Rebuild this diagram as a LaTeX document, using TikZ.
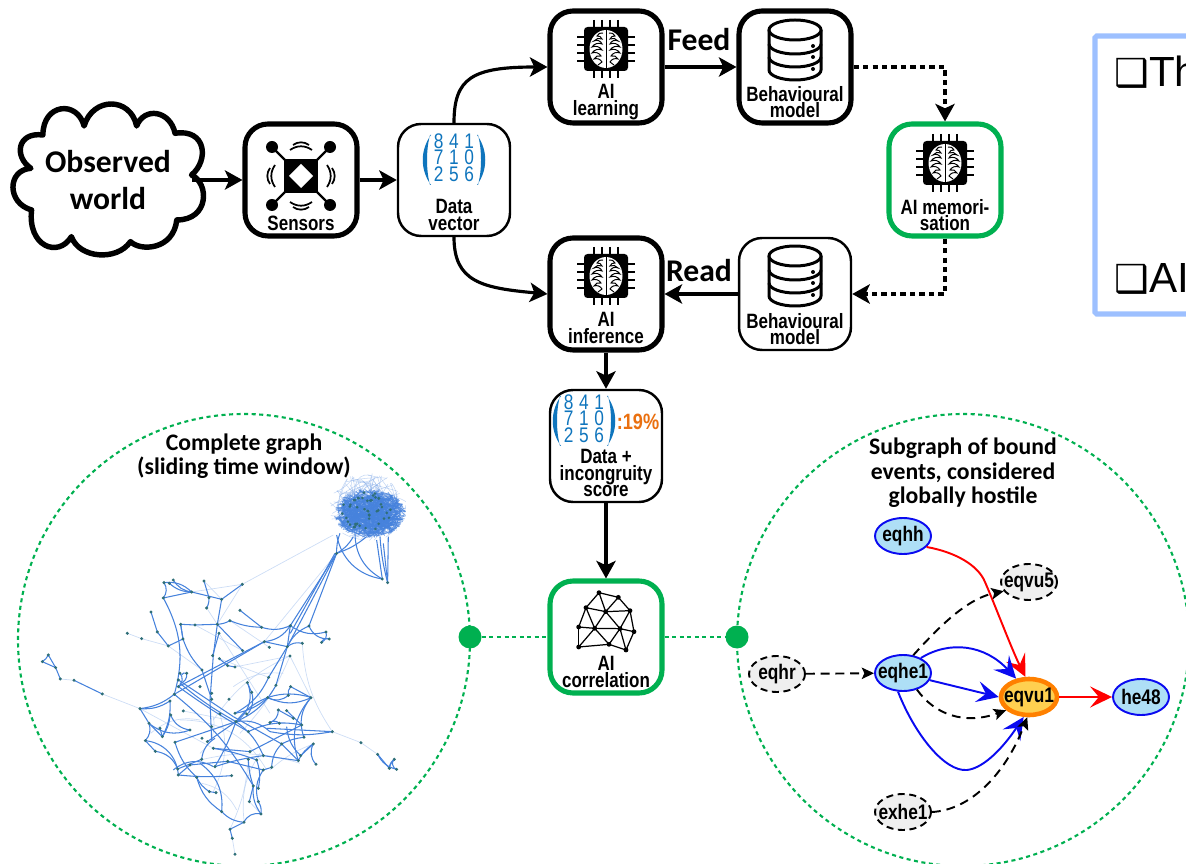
\documentclass[tikz,border=0pt]{standalone}
\usepackage{fontspec}
\usepackage{tikz}
\usetikzlibrary{arrows.meta, calc, positioning, shapes.geometric}
\setmainfont{Liberation Sans}
\newfontfamily\labelfont[FakeStretch=0.82]{Liberation Sans}
\newfontfamily\titlefont{Carlito}
\newfontfamily\symbolfont{DejaVu Sans}
\definecolor{mainGreen}{HTML}{00B050}
\definecolor{matBlue}{HTML}{0F75BD}
\definecolor{scoreOrange}{HTML}{EA7010}
\definecolor{frameBlue}{HTML}{9DC0FF}
\definecolor{nodeBlue}{HTML}{AEDFF6}
\definecolor{edgeBlue}{HTML}{0A0AF0}
\definecolor{nodeGray}{HTML}{EFEFEF}
\definecolor{alertFill}{HTML}{FFD050}
\definecolor{alertEdge}{HTML}{FF8000}
\definecolor{graphBlue}{HTML}{4682DC}
\definecolor{graphDot}{HTML}{2F6F78}
\tikzset{
    thickbox/.style={draw=black, line width=2.9pt, fill=white, rounded corners=0.46cm, minimum width=2.24cm, minimum height=2.24cm, inner sep=0pt},
    thinbox/.style={draw=black, line width=1.4pt, fill=white, rounded corners=0.46cm, minimum width=2.24cm, minimum height=2.24cm, inner sep=0pt},
    greenbox/.style={thickbox, draw=mainGreen},
    boxtext/.style={font=\labelfont\bfseries\fontsize{11.8}{9.4}\selectfont, align=center, inner sep=0pt},
    bigtext/.style={font=\titlefont\bfseries\fontsize{18}{21.6}\selectfont, align=center, inner sep=0pt},
    titletext/.style={font=\titlefont\bfseries\fontsize{13.5}{14}\selectfont, align=center, inner sep=0pt},
    matnode/.style={text=matBlue, inner sep=0pt, font=\labelfont\fontsize{12}{9.5}\selectfont},
    arr/.style={-{Stealth[length=10pt, width=11pt, inset=2.5pt]}, line width=1.8pt},
    dasharr/.style={arr, dash pattern=on 3pt off 2.4pt},
    ring/.style={draw=mainGreen, line width=1.2pt, dash pattern=on 2.3pt off 2pt},
    greendot/.style={circle, fill=mainGreen, minimum size=0.46cm, inner sep=0pt},
    graphnode/.style={ellipse, minimum width=1.12cm, minimum height=0.72cm, inner sep=0pt, font=\labelfont\bfseries\fontsize{12}{11}\selectfont},
    bluenode/.style={graphnode, draw=edgeBlue, fill=nodeBlue, line width=1.1pt},
    dashnode/.style={graphnode, draw=black, fill=nodeGray, line width=1.1pt, dash pattern=on 4pt off 2.6pt},
    alertnode/.style={graphnode, draw=alertEdge, fill=alertFill, line width=2.6pt},
    gbluearr/.style={-{Stealth[length=12.5pt, width=12pt, inset=5pt]}, draw=edgeBlue, line width=1.1pt},
    gredarr/.style={-{Stealth[length=12.5pt, width=12pt, inset=5pt]}, draw=red, line width=1.1pt},
    gdasharr/.style={-{Stealth[length=7pt, width=6.5pt, inset=1.5pt]}, line width=1.1pt, dash pattern=on 5pt off 3.4pt},
    gstrong/.style={draw=graphBlue, line width=0.6pt},
    gfaint/.style={draw=graphBlue!45, line width=0.4pt, opacity=0.6},
    chip/.pic={
        \foreach \d in {-12,-4,4,12} {
            \draw[line width=1.4pt] (\d,-29) -- (\d,29);
            \draw[line width=1.4pt] (-29,\d) -- (29,\d);
        }
        \fill[rounded corners=2pt] (-22,-22) rectangle (22,22);
        \fill[white] (0,0) ellipse (16.5 and 19);
        \draw[line width=0.5pt] (0,-19) -- (0,19);
        \foreach \s in {-1,1} {
            \draw[line width=0.55pt, xscale=\s] (3,-16) to[bend left=40] (9,-13) to[bend right=40] (4,-10) to[bend left=40] (12,-8) to[bend right=50] (4,-5) to[bend left=40] (14,-2) to[bend right=40] (4,1) to[bend left=40] (14,4) to[bend right=40] (5,7) to[bend left=40] (12,10) to[bend right=40] (4,13) to[bend left=20] (8,16);
        }
    },
    database/.pic={
        \draw[line width=1.7pt, fill=white] (-26,-20) -- (-26,20) arc[start angle=180, end angle=0, x radius=26, y radius=10] -- (26,-20);
        \draw[line width=1.7pt, fill=white] (0,-20) ellipse (26 and 10);
        \foreach \y in {-6,7} {
            \draw[line width=1.7pt] (-26,\y) arc[start angle=180, end angle=0, x radius=26, y radius=10];
        }
        \foreach \y in {-4,7,19} {
            \fill (18,\y) circle (2);
        }
    },
    sensoricon/.pic={
        \foreach \a/\b in {-29/-29,29/-29,-29/29,29/29} {
            \draw[line width=1.3pt] (0,0) -- (\a,\b);
            \fill (\a,\b) circle (6);
        }
        \fill (-17,-17) rectangle (17,17);
        \fill[white] (0,-12) -- (12,0) -- (0,12) -- (-12,0) -- cycle;
        \foreach \r in {0,90,180,270} {
            \begin{scope}[rotate=\r]
                \draw[line width=1pt] (-11,-26) to[bend left=35] (11,-26);
                \draw[line width=1pt] (-8,-31) to[bend left=35] (8,-31);
            \end{scope}
        }
    },
    matparens/.pic={
        \foreach \s in {-1,1} {
            \fill[matBlue, xscale=\s] (-23,-25) .. controls (-34,-10) and (-34,10) .. (-23,25) -- (-24,25) .. controls (-28,10) and (-28,-10) .. (-24,-25) -- cycle;
        }
    },
    meshicon/.pic={
        \foreach \n/\a/\b in {1/297/668,2/355/682,3/390/722,4/258/713,5/317/725,6/236/771,7/284/775,8/360/776,9/402/785,10/236/831,11/327/823,12/378/840} {
            \coordinate (m\n) at (\a/3,\b/3);
            \fill (m\n) circle (2.4);
        }
        \foreach \a/\b in {1/2,2/3,1/4,1/5,2/5,4/5,5/3,4/6,4/7,5/7,5/8,3/8,3/9,6/7,7/8,8/9,6/10,10/7,10/11,7/11,8/11,8/12,9/12,11/12} {
            \draw[line width=0.7pt] (m\a) -- (m\b);
        }
    }
}
\newcommand{\datadigits}{\begin{tabular}{@{}c@{\hspace{3.2pt}}c@{\hspace{3.2pt}}c@{}}8&4&1\\[-2pt]7&1&0\\[-2pt]2&5&6\end{tabular}}
\newcommand{\gname}[1]{\hbox to 0pt{\hss #1\hss}}

\begin{document}
\begin{tikzpicture}[x=0.02cm, y=-0.02cm]
    \path[use as bounding box, clip] (0,0) rectangle (1186,864);

    % cloud
    \begin{scope}[scale=0.3333, xscale=1.03]
        \draw[line width=3.1pt, fill=white, line join=round] (90,505) .. controls (40,470) and (50,395) .. (125,405)
            .. controls (125,310) and (225,300) .. (245,378) .. controls (270,290) and (380,290) .. (398,378)
            .. controls (420,320) and (495,330) .. (510,400) .. controls (600,385) and (610,480) .. (558,525)
            .. controls (610,550) and (610,660) .. (515,660) .. controls (505,750) and (410,755) .. (380,725)
            .. controls (340,785) and (230,775) .. (208,710) .. controls (170,775) and (80,740) .. (92,630)
            .. controls (20,610) and (20,510) .. (90,505) -- cycle;
    \end{scope}
    \node[bigtext, minimum width=3.36cm] (world) at (108,180) {Observed\\world};

    % boxes
    \node[thickbox] (sensors) at (301,180) {};
    \node[thinbox] (data) at (454,180) {};
    \node[thickbox] (learning) at (606,67) {};
    \node[thickbox] (modelA) at (795,67) {};
    \node[greenbox] (memo) at (945,180) {};
    \node[thinbox] (modelB) at (795,294) {};
    \node[thickbox] (inference) at (606,294) {};
    \node[thinbox] (score) at (606,446) {};
    \node[greenbox] (correl) at (606,637) {};

    % icons
    \pic at (301,176) {sensoricon};
    \pic at (606,49) {chip};
    \pic at (945,163) {chip};
    \pic at (606,276) {chip};
    \pic at (795,50) {database};
    \pic at (795,276) {database};
    \pic at (500,370) {meshicon};

    % box labels
    \node[boxtext] (sensorsText) at (301,223) {Sensors};
    \node[boxtext] (dataText) at (454,215) {Data\\vector};
    \node[boxtext] (learningText) at (606,102) {AI\\learning};
    \node[boxtext] (modelAText) at (795,102) {Behavioural\\model};
    \node[boxtext] (memoText) at (945,215) {AI memori-\\sation};
    \node[boxtext] (modelBText) at (795,329) {Behavioural\\model};
    \node[boxtext] (inferenceText) at (606,328) {AI\\inference};
    \node[boxtext] (scoreText) at (606,473) {Data +\\incongruity\\score};
    \node[boxtext] (correlText) at (606,672) {AI\\correlation};

    % matrices
    \node[matnode] (dataMat) at (454,160) {\datadigits};
    \pic at (454,160) {matparens};
    \node[matnode] (scoreMat) at (584,421) {\datadigits};
    \pic at (584,421) {matparens};
    \node[boxtext, text=scoreOrange, font=\labelfont\bfseries\fontsize{12.6}{12}\selectfont] (scoreVal) at (638,422) {:19\%};

    % top connectors
    \draw[arr] (world.east) -- (sensors.west);
    \draw[arr] (sensors.east) -- (data.west);
    \draw[arr] (data.north) .. controls (454,78) and (472,67) .. (learning.west);
    \draw[arr] (data.south) .. controls (454,282) and (482,288) .. (inference.west);
    \draw[arr] (learning.east) -- (modelA.west);
    \draw[arr] (modelB.west) -- (inference.east);
    \draw[dasharr] (modelA.east) -| (memo.north);
    \draw[dasharr] (memo.south) |- (modelB.east);
    \draw[arr] (inference.south) -- (score.north);
    \draw[arr] (score.south) -- (correl.north);
    \node[bigtext] (feedText) at (699,40) {Feed};
    \node[bigtext] (readText) at (699,271) {Read};

    % text frame on the right
    \draw[frameBlue, line width=2.9pt, rounded corners=1pt] (1095,36) rectangle (1240,314);
    \node[anchor=west, inner sep=0pt, font=\fontsize{24}{26}\selectfont] (lineA) at (1114,72) {{\symbolfont\bfseries\fontsize{22}{26}\selectfont ❑}Th};
    \node[anchor=west, inner sep=0pt, font=\fontsize{24}{26}\selectfont] (lineB) at (1114,279) {{\symbolfont\bfseries\fontsize{22}{26}\selectfont ❑}AI};

    % rings
    \draw[ring] (244,640) circle (226);
    \draw[ring] (963,640) circle (226);
    \node[greendot] (dotL) at (470,637) {};
    \node[greendot] (dotR) at (737,637) {};
    \draw[ring] (dotL) -- (correl.west);
    \draw[ring] (correl.east) -- (dotR);
    \node[titletext] (titleL) at (244,456) {Complete graph\\(sliding time window)};
    \node[titletext] (titleR) at (963,473) {Subgraph of bound\\events, considered\\globally hostile};

    % complete graph
    \begin{scope}[shift={(0,420)}, scale=0.3333]
        \begin{scope}
            \clip (960,150) rectangle (1218,500);
            \pgfmathsetseed{11}
            \foreach \i in {1,...,130} {
                \pgfmathsetmacro{\ta}{360*rnd}
                \pgfmathsetmacro{\ra}{0.6+0.45*rnd}
                \pgfmathsetmacro{\tb}{360*rnd}
                \pgfmathsetmacro{\rb}{0.5+0.55*rnd}
                \pgfmathsetmacro{\bendval}{80*rnd-40}
                \draw[draw=graphBlue!70, line width=0.3pt, opacity=0.45] ({1105+112*\ra*cos(\ta)},{262+100*\ra*sin(\ta)}) to[bend left=\bendval] ({1105+112*\rb*cos(\tb)},{262+100*\rb*sin(\tb)});
            }
            \foreach \i in {1,...,330} {
                \pgfmathsetmacro{\ta}{360*rnd}
                \pgfmathsetmacro{\ra}{pow(rnd,0.45)}
                \pgfmathsetmacro{\tb}{360*rnd}
                \pgfmathsetmacro{\rb}{pow(rnd,0.45)}
                \pgfmathsetmacro{\bendval}{70*rnd-35}
                \draw[draw=graphBlue, line width=0.45pt, opacity=0.7] ({1110+108*\ra*cos(\ta)},{280+74*\ra*sin(\ta)}) to[bend left=\bendval] ({1110+108*\rb*cos(\tb)},{280+74*\rb*sin(\tb)});
            }
            \foreach \i in {1,...,45} {
                \pgfmathsetmacro{\ta}{360*rnd}
                \pgfmathsetmacro{\ra}{sqrt(rnd)}
                \fill[graphDot] ({1100+75*\ra*cos(\ta)},{275+60*\ra*sin(\ta)}) circle (4.4);
            }
            \foreach \a/\b/\c/\d/\e in {1010/345/1147/477/35, 1065/340/1147/477/30, 1130/360/1147/477/0, 1150/370/1163/488/0, 1165/350/1163/488/0, 1140/350/1163/488/5, 1020/340/1010/400/10, 1060/350/1010/400/-15, 1100/350/1010/400/-10} {
                \draw[gstrong] (\a,\b) to[bend right=\e] (\c,\d);
            }
        \end{scope}
        \foreach \a/\b/\c/\d/\e in {
            1000/345/727/493/0, 307/822/420/866/0, 222/781/181/777/0, 997/935/1083/968/0, 1083/968/1133/1003/0, 382/640/425/656/0, 425/656/505/678/0,
            727/493/575/516/0, 612/483/665/538/0, 727/493/652/613/0, 585/615/728/692/0, 657/640/810/880/0, 705/741/870/708/0, 907/670/997/935/-15,
            550/873/710/905/0, 420/866/640/985/0, 660/882/640/1115/20, 745/1018/690/1228/10, 783/1182/748/1145/0, 870/708/933/833/0, 1010/400/793/665/0,
            505/678/606/750/0, 658/716/806/772/0, 620/564/652/613/0, 690/602/808/682/0, 600/1000/640/890/-30, 940/972/810/1050/-10, 697/1255/705/1303/0,
            452/940/600/900/25, 700/800/850/760/20, 640/900/870/708/15, 540/900/800/1050/30, 600/1020/900/1030/15, 605/1090/710/1170/25, 870/708/720/940/10, 733/1208/780/1000/20} {
            \draw[gfaint] (\a,\b) to[bend left=\e] (\c,\d);
        }
        \foreach \a/\b/\c/\d/\e in {
            145/705/127/725/15, 127/725/167/743/0, 145/705/167/743/0, 167/743/181/777/0, 222/781/307/822/0,
            1010/400/871/617/0, 1010/400/862/680/0, 1010/400/927/618/0, 1005/400/871/640/0, 862/680/828/796/0, 862/680/806/772/0, 871/617/862/680/0,
            871/617/793/665/25, 927/618/862/680/-20, 785/622/871/617/-20, 871/617/978/636/-25, 927/618/988/657/-35, 978/636/965/667/40, 965/667/988/657/50,
            793/665/862/680/0, 793/665/535/800/0, 793/665/523/823/0, 523/823/420/866/15, 420/866/447/910/0, 420/866/510/843/-18,
            492/488/575/516/25, 508/490/575/516/-20, 520/480/575/516/-25, 492/488/490/534/35, 575/516/665/538/0, 490/534/575/516/0, 612/483/627/533/0, 627/533/620/564/15,
            727/493/665/538/0, 665/538/652/613/0, 652/613/640/707/0, 640/707/630/840/0, 630/840/635/960/0, 657/640/638/707/0,
            490/534/523/823/22, 523/823/760/1098/10, 760/1098/783/1182/-20, 783/1182/732/1207/-40, 732/1207/690/1228/0, 690/1228/697/1255/0,
            453/576/472/636/0, 472/636/505/678/0, 505/678/549/657/0, 549/657/542/613/0, 542/613/585/615/0, 585/615/652/613/0, 652/613/690/602/-12, 690/602/785/622/-10, 720/571/785/622/0, 652/613/728/692/0,
            549/657/606/750/-12, 606/750/635/838/0, 542/613/549/657/0, 683/737/705/741/0, 658/716/683/737/0,
            535/780/700/890/0, 540/790/708/905/-5, 535/800/745/935/-3, 560/760/540/790/45, 540/760/535/800/50, 545/765/560/760/50, 708/905/810/935/25, 810/935/997/935/-10, 745/935/905/915/18,
            700/890/845/972/0, 845/972/895/1022/0, 708/905/935/833/35, 933/833/912/952/-30, 912/952/845/972/-10, 805/833/933/833/-25, 742/788/708/905/40, 742/788/755/817/0, 755/817/745/880/25,
            828/796/708/905/18, 806/772/705/880/18, 803/833/705/880/15, 803/833/865/826/-35, 865/826/872/800/25, 872/800/933/833/0, 835/870/880/895/0, 860/872/905/915/0, 835/870/810/908/35, 810/908/838/910/40,
            708/905/525/967/0, 708/905/622/965/0, 708/905/645/1040/5, 708/905/790/1007/15, 933/833/895/1022/-30, 862/680/907/670/25,
            447/910/436/962/30, 447/910/487/950/0, 480/925/487/950/0, 436/962/466/994/0, 466/994/533/1047/30, 487/950/510/885/-15, 510/843/487/950/15, 512/885/570/930/-30, 447/910/570/930/-30, 436/962/535/1065/40,
            525/967/590/1072/-15, 533/1047/605/1018/0, 535/1065/570/1035/0, 535/1065/695/1067/-5, 590/1072/628/1115/-15, 590/1072/665/1175/-20, 628/1115/648/1118/0, 570/1035/683/1024/0, 605/1018/645/955/25, 640/1040/520/1050/-35,
            640/985/750/995/0, 640/985/770/1020/5, 645/1040/790/1007/5, 683/1024/790/1050/0, 745/1018/760/1098/-8, 770/1020/775/1105/15, 790/1050/775/1145/-25, 775/1145/783/1182/20, 748/1145/760/1098/0, 790/1050/815/1042/0, 815/1042/845/972/20,
            790/1007/895/1022/0, 895/1022/940/972/15, 902/1007/940/972/0, 940/972/948/1033/-35, 750/995/905/915/0, 800/925/997/935/0, 902/1007/860/920/20, 665/1175/732/1207/-20, 600/1030/665/1175/30,
            1133/1003/1168/1045/0, 1133/1003/1190/1048/-25, 1168/1045/1183/1018/15, 1183/1018/1190/1048/-70, 1183/1018/1168/1045/-25} {
            \draw[gstrong] (\a,\b) to[bend left=\e] (\c,\d);
        }
        \foreach \a/\b in {
            145/705,127/725,167/743,181/777,222/781,307/822,420/866,382/640,425/656,505/678,549/657,542/613,585/615,472/636,453/576,490/534,492/488,508/490,520/480,575/516,612/483,627/533,620/564,665/538,727/493,652/613,690/602,720/571,785/622,657/640,728/692,638/707,658/716,683/737,705/741,606/750,793/665,808/682,862/680,871/617,927/618,978/636,988/657,965/667,907/670,870/708,806/772,828/796,872/800,865/826,933/833,803/833,755/817,742/788,687/838,635/820,635/838,600/800,535/780,560/760,540/760,535/800,523/823,510/843,550/873,512/885,447/910,480/925,487/950,436/962,466/994,525/967,570/930,606/955,622/965,635/920,660/882,705/880,740/882,708/905,745/935,810/908,838/910,835/870,860/872,880/895,905/915,912/952,845/972,997/935,1083/968,1133/1003,1168/1045,1190/1048,1183/1018,940/972,948/1033,902/1007,895/1022,790/1007,770/1020,745/1018,750/995,683/1024,640/985,605/1018,645/1040,570/1035,533/1047,535/1065,590/1072,695/1067,628/1115,648/1118,665/1175,732/1207,690/1228,697/1255,705/1303,783/1182,775/1145,748/1145,760/1098,775/1105,790/1050,815/1042,1010/400,1147/477,1163/488} {
            \fill[graphDot] (\a,\b) circle (5);
        }
    \end{scope}

    % subgraph
    \node[bluenode] (eqhh) at (903,536) {\gname{eqhh}};
    \node[dashnode] (eqvu5) at (1029,582) {\gname{eqvu5}};
    \node[dashnode] (eqhr) at (777,674) {\gname{eqhr}};
    \node[bluenode] (eqhe1) at (903,673) {\gname{eqhe1}};
    \node[alertnode] (eqvu1) at (1029,697) {\gname{eqvu1}};
    \node[bluenode] (he48) at (1141,697) {\gname{he48}};
    \node[dashnode] (exhe1) at (903,812) {\gname{exhe1}};
    \draw[gredarr] (eqhh.-25) .. controls (955,552) and (978,565) .. (985,582) .. controls (995,605) and (1012,650) .. (eqvu1.100);
    \draw[gbluearr] (eqhe1.40) .. controls (950,640) and (985,645) .. (eqvu1.125);
    \draw[gbluearr] (eqhe1.-15) -- (eqvu1.180);
    \draw[gbluearr] (eqhe1.-105) .. controls (915,735) and (945,772) .. (967,770) .. controls (985,768) and (1005,745) .. (eqvu1.-105);
    \draw[gdasharr] (eqhe1.-50) .. controls (935,715) and (965,725) .. (eqvu1.-150);
    \draw[gdasharr] (eqhe1.60) .. controls (945,620) and (970,598) .. (eqvu5.-160);
    \draw[gdasharr] (eqhr) -- (eqhe1);
    \draw[gdasharr] (exhe1.east) .. controls (970,810) and (1005,775) .. (eqvu1.-95);
    \draw[gredarr] (eqvu1) -- (he48);
\end{tikzpicture}
\end{document}
